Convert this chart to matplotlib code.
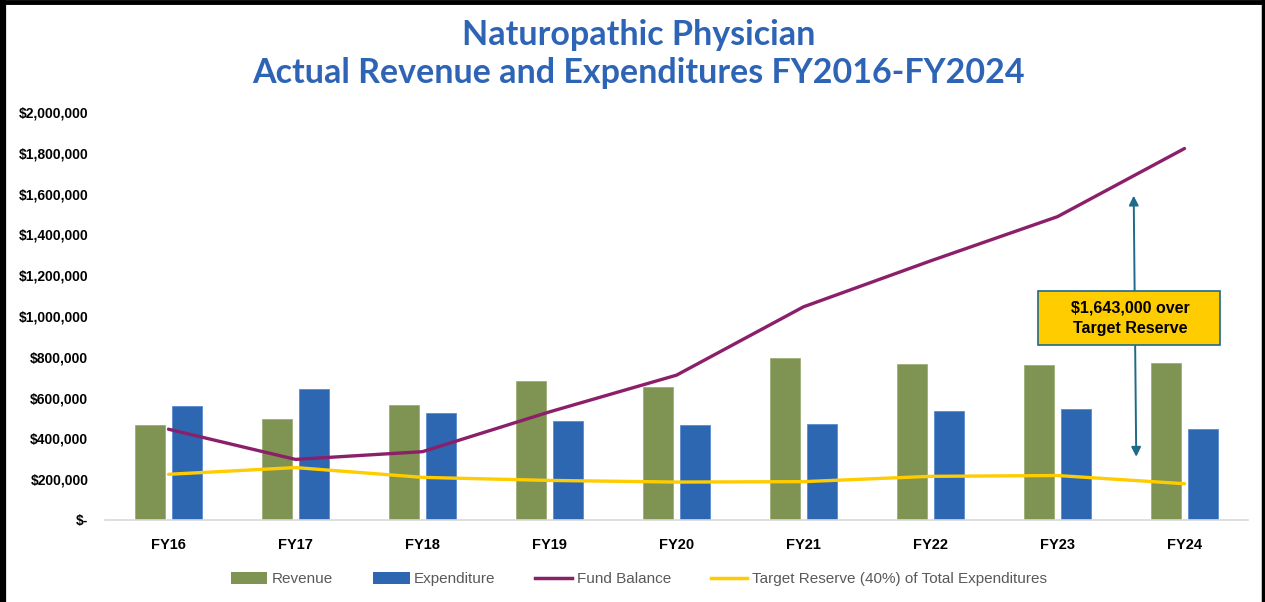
import matplotlib.pyplot as plt
from matplotlib.lines import Line2D
from matplotlib.patches import Patch, Rectangle
import numpy as np

years = ['FY16', 'FY17', 'FY18', 'FY19', 'FY20', 'FY21', 'FY22', 'FY23', 'FY24']
revenue = [465000, 493000, 564000, 683000, 650000, 795000, 765000, 760000, 771000]
expenditure = [560000, 643000, 523000, 485000, 465000, 470000, 536000, 544000, 446000]
fund_balance = [445000, 297000, 335000, 530000, 710000, 1045000, 1270000, 1487000, 1821000]
target_reserve = [224000, 257000, 209000, 194000, 186000, 188000, 214000, 218000, 178000]

over_text = '$1,643,000 over\nTarget Reserve'

green = '#7F9352'
blue = '#2E67B1'
purple = '#8C1F69'
yellow = '#FFCC00'
teal = '#1F6A88'

fig = plt.figure(figsize=(12.65, 6.02), dpi=100)
ax = fig.add_axes([105 / 1265, 1 - 520 / 602, (1248 - 105) / 1265, (520 - 112) / 602])

x = np.arange(len(years))
w = 0.235
ax.bar(x - 0.145, revenue, w, color=green, edgecolor='#9DAE78', linewidth=0.6, zorder=2)
ax.bar(x + 0.145, expenditure, w, color=blue, edgecolor='#5A8AD0', linewidth=0.6, zorder=2)
ax.plot(x, fund_balance, color=purple, lw=2.4, zorder=3, solid_capstyle='round')
ax.plot(x, target_reserve, color=yellow, lw=2.4, zorder=3, solid_capstyle='round')

# arrow showing how far the balance is over the target
ax.annotate('', xy=(7.6, 1590000), xytext=(7.62, 310000),
            arrowprops=dict(arrowstyle='<|-|>', color=teal, lw=1.4,
                            mutation_scale=14, shrinkA=0, shrinkB=0), zorder=4)
ax.add_patch(Rectangle((6.85, 858000), 1.43, 264000, facecolor=yellow, edgecolor=teal,
                       lw=1.2, zorder=5))
ax.text(7.57, 990000, over_text, ha='center', va='center', fontsize=11.5,
        fontweight='bold', family='Liberation Sans', color='black', zorder=6,
        linespacing=1.45)

ax.set_xlim(-0.5, 8.5)
ax.set_ylim(0, 2000000)
ax.set_yticks(np.arange(0, 2000001, 200000))
ax.set_yticklabels(['$-' if v == 0 else '${:,.0f}'.format(v) for v in np.arange(0, 2000001, 200000)])
ax.set_xticks(x)
ax.set_xticklabels(years)
for lab in ax.get_yticklabels():
    lab.set_fontweight('bold')
    lab.set_fontsize(10)
    lab.set_family('Liberation Sans')
for lab in ax.get_xticklabels():
    lab.set_fontweight('bold')
    lab.set_fontsize(10.5)
    lab.set_family('Liberation Sans')
ax.tick_params(axis='both', length=0)
ax.tick_params(axis='y', pad=12)
ax.tick_params(axis='x', pad=13)
for s in ['top', 'right', 'left']:
    ax.spines[s].set_visible(False)
ax.spines['bottom'].set_color('#D9D9D9')
ax.spines['bottom'].set_linewidth(1.2)

fig.text(0.505, 1 - 54 / 602, 'Naturopathic Physician\nActual Revenue and Expenditures FY2016-FY2024',
         ha='center', va='center', fontsize=24.5, fontweight='bold', color='#2E64B5',
         family='Lato', linespacing=1.22)

handles = [Patch(facecolor=green, edgecolor='none'),
           Patch(facecolor=blue, edgecolor='none'),
           Line2D([], [], color=purple, lw=2.5),
           Line2D([], [], color=yellow, lw=2.5)]
labels = ['Revenue', 'Expenditure', 'Fund Balance', 'Target Reserve (40%) of Total Expenditures']
leg = fig.legend(handles, labels, loc='center', bbox_to_anchor=(0.505, 1 - 579 / 602), ncol=4,
                 frameon=False, handlelength=2.4, handleheight=0.9, handletextpad=0.3,
                 columnspacing=2.6,
                 prop={'family': 'Liberation Sans', 'size': 11})
for t in leg.get_texts():
    t.set_color('#595959')

# frame around the chart (top, left, right)
fig.add_artist(Line2D([0.002, 0.002], [0, 1], color='black', lw=4.5, transform=fig.transFigure))
fig.add_artist(Line2D([0.9985, 0.9985], [0, 1], color='black', lw=2.5, transform=fig.transFigure))
fig.add_artist(Line2D([0, 1], [0.997, 0.997], color='black', lw=3.5, transform=fig.transFigure))

fig.savefig('out.png', dpi=100)
